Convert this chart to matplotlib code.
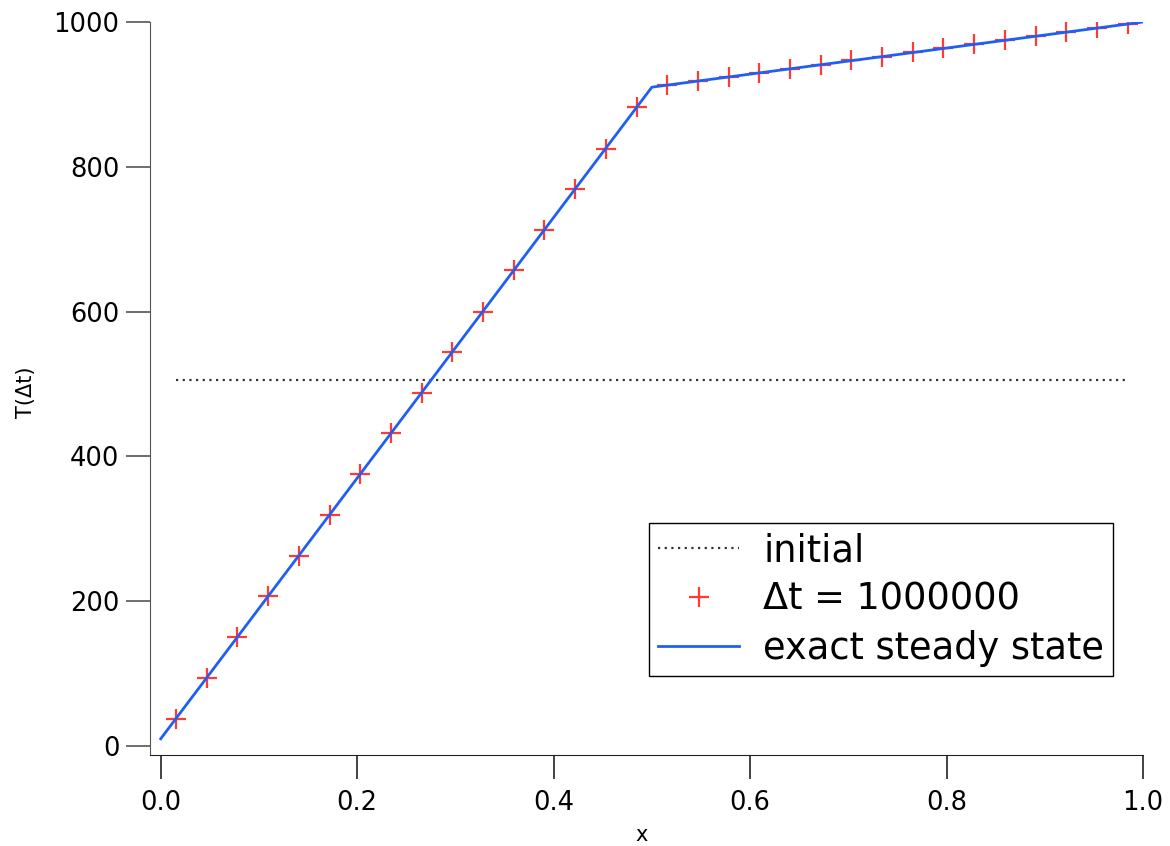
import numpy as np
import matplotlib
matplotlib.use("Agg")
import matplotlib.pyplot as plt

# ---------------------------------------------------------
# Data
# ---------------------------------------------------------
# cell centres, 32 cells on [0, 1]
x_cells = [0.0156, 0.0469, 0.0781, 0.1094, 0.1406, 0.1719, 0.2031, 0.2344,
           0.2656, 0.2969, 0.3281, 0.3594, 0.3906, 0.4219, 0.4531, 0.4844,
           0.5156, 0.5469, 0.5781, 0.6094, 0.6406, 0.6719, 0.7031, 0.7344,
           0.7656, 0.7969, 0.8281, 0.8594, 0.8906, 0.9219, 0.9531, 0.9844]

T_initial = [505] * 32

T_dt = [38, 94, 150, 207, 263, 319, 376, 432, 488, 544, 600, 657, 713, 769, 825, 882,
        913, 918, 924, 930, 935, 941, 947, 952, 958, 964, 969, 975, 980, 986, 992, 997]

x_exact = [0.0, 0.5, 1.0]
T_exact = [10, 910, 1000]

x_ticks = [0.0, 0.2, 0.4, 0.6, 0.8, 1.0]
y_ticks = [0, 200, 400, 600, 800, 1000]

# ---------------------------------------------------------
# Plot
# ---------------------------------------------------------
plt.rcParams['font.family'] = ['DejaVu Sans']

fig = plt.figure(figsize=(11.7, 8.46), dpi=100)
ax = fig.add_axes([150 / 1170, 1 - 755 / 846, (1143 - 150) / 1170, (755 - 22) / 846])

ax.plot(x_cells, T_initial, color='#333333', linestyle=(0, (1, 2)), linewidth=1.6,
        label='initial')
ax.plot(x_cells, T_dt, linestyle='none', marker='+', markersize=15,
        markeredgewidth=1.6, color='#ff3b30', label='\u0394t = 1000000')
ax.plot(x_exact, T_exact, color='#1f5ff5', linewidth=2, label='exact steady state')

ax.set_xlim(-0.0109, 1.0)
ax.set_ylim(-12.4, 1000)
ax.set_xticks(x_ticks)
ax.set_xticklabels([f'{v:.1f}' for v in x_ticks])
ax.set_yticks(y_ticks)
ax.set_yticklabels([str(v) for v in y_ticks])

for side in ['top', 'right']:
    ax.spines[side].set_visible(False)
ax.spines['left'].set_color('#555555')
ax.spines['bottom'].set_color('#222222')
ax.tick_params(axis='both', direction='out', length=17, width=1.2,
               labelsize=18.5)
ax.tick_params(axis='y', color='#555555', pad=5)
ax.tick_params(axis='x', color='#222222', pad=8)

ax.set_xlabel('x', fontsize=15)
ax.set_ylabel('T(\u0394t)', fontsize=15)
ax.xaxis.set_label_coords(0.495, -0.095)
ax.yaxis.set_label_coords(-0.115, 0.495)

leg = ax.legend(loc='lower right', bbox_to_anchor=(0.970, 0.108), fontsize=26.5,
                frameon=True, fancybox=False, shadow=False, framealpha=1,
                edgecolor='black', handlelength=2.2, handletextpad=0.65,
                labelspacing=0.32, borderpad=0.25, borderaxespad=0)
leg.get_frame().set_linewidth(1.0)

fig.savefig('out.png', dpi=100)
